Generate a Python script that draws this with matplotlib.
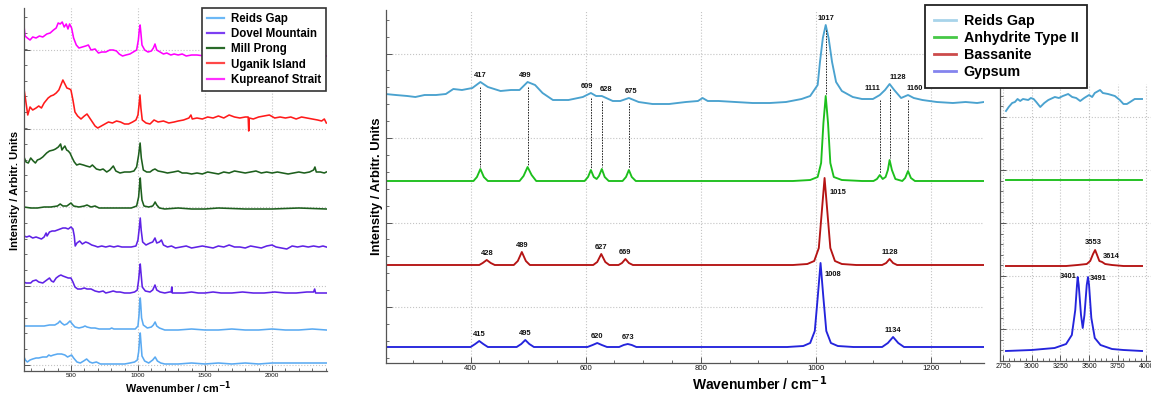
import numpy as np
import matplotlib
matplotlib.use("Agg")
import matplotlib.pyplot as plt
from matplotlib.lines import Line2D
from matplotlib.ticker import MultipleLocator, AutoMinorLocator

plt.rcParams['font.family'] = ['Liberation Sans', 'DejaVu Sans']
plt.rcParams['axes.unicode_minus'] = False
SMALL = ['Liberation Sans', 'DejaVu Sans']

# ---------------- left panel: field spectra (stacked, arbitrary units) ----------------
kup_x = [150, 158, 175, 195, 215, 240, 265, 290, 320, 345, 370, 390, 405, 420, 435, 450, 465, 478, 490, 505,
         520, 540, 560, 585, 610, 630, 650, 680, 705, 730, 760, 790, 815, 840, 860, 885, 910, 940, 965, 990,
         1003, 1010, 1016, 1022, 1030, 1050, 1075, 1100, 1115, 1127, 1140, 1165, 1190, 1215, 1245, 1270, 1300,
         1330, 1360, 1400, 1440, 1500, 1600, 1700, 1800, 1900, 2000, 2100, 2200, 2300, 2405]
kup_y = [339, 329, 327, 325, 328, 327, 329, 328, 331, 332, 335, 337, 342, 341, 343, 338, 341, 336, 341, 337,
         327, 320, 317, 318, 319, 320, 315, 316, 312, 313, 313, 315, 315, 314, 311, 309, 310, 311, 313, 315,
         325, 335, 340, 332, 320, 315, 313, 314, 317, 321, 315, 313, 311, 312, 310, 311, 310,
         311, 309, 310, 310, 309, 310, 309, 310, 309, 310, 309, 310, 309, 309]

uga_x = [150, 160, 178, 195, 215, 240, 260, 280, 300, 330, 350, 370, 390, 410, 425, 440, 455, 470, 490, 500,
         515, 530, 550, 575, 600, 620, 650, 680, 700, 740, 780, 810, 840, 870, 900, 930, 960, 985, 1000, 1008,
         1015, 1022, 1032, 1060, 1090, 1120, 1150, 1190, 1230, 1270, 1300, 1340, 1380, 1395, 1405, 1440, 1480,
         1520, 1560, 1600, 1640, 1680, 1720, 1760, 1800, 1822, 1826, 1830, 1860, 1900, 1940, 1980, 2020, 2060,
         2100, 2140, 2180, 2220, 2260, 2300, 2340, 2370, 2390, 2405]
uga_y = [276, 267, 250, 258, 255, 257, 259, 257, 262, 267, 269, 270, 272, 275, 280, 285, 281, 277, 276, 275,
         265, 253, 249, 246, 249, 251, 245, 239, 237, 240, 243, 242, 244, 243, 241, 241, 243, 245, 250, 260,
         270, 257, 245, 242, 241, 245, 243, 244, 242, 243, 244, 245, 247, 250, 246, 247, 246,
         248, 247, 249, 247, 250, 248, 247, 248, 248, 234, 247, 246, 248, 249, 250, 247, 248,
         247, 248, 246, 248, 247, 246, 245, 244, 246, 242]

mill1_x = [150, 165, 182, 200, 219, 235, 250, 269, 290, 319, 340, 369, 385, 406, 423, 433, 443, 455, 468, 480,
           493, 510, 525, 543, 565, 593, 615, 642, 660, 690, 717, 740, 767, 790, 816, 835, 866, 900, 941, 970,
           990, 1005, 1016, 1025, 1040, 1065, 1090, 1110, 1127, 1150, 1189, 1220, 1264, 1300, 1330, 1363, 1400,
           1440, 1480, 1520, 1560, 1600, 1640, 1680, 1720, 1760, 1800, 1840, 1880, 1920, 1960, 2000, 2040, 2080,
           2120, 2160, 2200, 2240, 2280, 2310, 2320, 2330, 2360, 2390, 2405]
mill1_y = [208, 203, 202, 207, 204, 202, 205, 206, 208, 212, 214, 215, 216, 218, 221, 215, 217, 219, 215, 214,
           212, 207, 203, 200, 201, 200, 199, 198, 200, 196, 195, 196, 193, 195, 199, 194, 192, 193, 193, 194,
           198, 210, 222, 207, 195, 193, 193, 195, 196, 194, 193, 192, 193, 194, 192, 192, 191,
           192, 191, 193, 192, 191, 193, 192, 194, 193, 192, 193, 194, 192, 193, 192, 193, 192,
           191, 192, 193, 192, 193, 195, 198, 193, 193, 192, 193]

mill2_x = [150, 200, 250, 300, 350, 400, 420, 440, 470, 500, 520, 560, 600, 620, 650, 680, 710, 760, 820, 880,
           950, 990, 1005, 1012, 1017, 1022, 1030, 1045, 1080, 1110, 1120, 1128, 1140, 1160, 1200, 1300, 1400,
           1500, 1600, 1800, 2000, 2200, 2405]
mill2_y = [158, 157, 157, 158, 158, 159, 161, 159, 159, 162, 159, 158, 159, 160, 158, 159, 157, 157, 157, 157,
           157, 159, 168, 180, 187, 177, 165, 159, 158, 159, 161, 163, 160, 157, 156, 157, 156,
           156, 157, 156, 156, 157, 156]

dov1_x = [150, 170, 190, 215, 240, 260, 280, 300, 315, 322, 340, 360, 380, 400, 420, 440, 460, 480, 500, 515,
          525, 532, 545, 565, 585, 610, 630, 655, 680, 700, 730, 760, 790, 820, 850, 880, 910, 950, 985, 1000,
          1010, 1017, 1024, 1035, 1060, 1090, 1110, 1127, 1140, 1160, 1175, 1190, 1220, 1250, 1280, 1320, 1360,
          1400, 1440, 1480, 1520, 1560, 1600, 1640, 1680, 1720, 1760, 1800, 1840, 1880, 1920, 1960, 2000, 2030,
          2070, 2110, 2150, 2190, 2230, 2270, 2310, 2350, 2380, 2405]
dov1_y = [129, 128, 129, 127, 128, 127, 126, 128, 132, 129, 133, 134, 134, 135, 136, 137, 137, 136, 138, 136,
          129, 119, 122, 124, 121, 123, 122, 120, 119, 118, 119, 118, 119, 118, 119, 118, 118, 118, 119, 125,
          137, 147, 135, 123, 120, 122, 123, 127, 122, 123, 125, 120, 118, 119, 117, 118, 119,
          117, 118, 119, 118, 117, 119, 118, 120, 118, 118, 117, 119, 118, 117, 119, 120, 118,
          117, 116, 119, 118, 119, 118, 119, 118, 119, 118]

dov2_x = [150, 165, 182, 200, 215, 240, 260, 290, 310, 340, 355, 370, 390, 410, 425, 440, 460, 480, 500, 515,
          530, 550, 575, 600, 620, 650, 680, 710, 740, 760, 790, 815, 840, 866, 900, 941, 975, 995, 1005, 1012,
          1017, 1022, 1032, 1055, 1090, 1110, 1127, 1140, 1165, 1200, 1235, 1248, 1252, 1256, 1290, 1340, 1400,
          1450, 1500, 1560, 1620, 1700, 1780, 1860, 1940, 2020, 2100, 2180, 2260, 2310, 2318, 2325, 2360, 2405]
dov2_y = [83, 82, 82, 82, 84, 85, 83, 82, 84, 87, 84, 83, 87, 89, 90, 89, 88, 87, 87, 83,
          78, 76, 76, 77, 76, 76, 74, 73, 74, 72, 73, 74, 73, 73, 72, 72, 73, 75, 85, 95,
          101, 93, 78, 74, 73, 75, 80, 75, 73, 72, 73, 73, 78, 72, 72, 72, 73,
          72, 72, 73, 72, 72, 73, 72, 72, 73, 72, 72, 73, 73, 76, 72, 72, 72]

reid1_x = [150, 200, 250, 300, 340, 380, 405, 418, 430, 450, 470, 493, 510, 530, 560, 590, 605, 620, 650, 680,
           710, 750, 790, 804, 820, 860, 900, 940, 980, 1000, 1008, 1013, 1017, 1021, 1027, 1040, 1070, 1100,
           1115, 1128, 1140, 1160, 1200, 1300, 1400, 1500, 1600, 1700, 1800, 1900, 2000, 2100, 2200, 2300, 2405]
reid1_y = [39, 39, 39, 39, 40, 40, 42, 44, 42, 40, 41, 44, 41, 38, 37, 38, 39, 38, 37, 37,
           36, 36, 36, 37, 36, 36, 36, 36, 36, 39, 50, 62, 67, 60, 47, 40, 37, 38,
           40, 43, 39, 37, 35, 35, 36, 35, 35, 36, 35, 35, 36, 35, 35, 36, 35]

reid2_x = [150, 160, 175, 195, 215, 240, 260, 290, 320, 335, 350, 370, 400, 430, 455, 475, 490, 505, 520, 545,
           570, 595, 617, 640, 660, 690, 720, 760, 800, 850, 900, 940, 975, 995, 1005, 1012, 1017, 1022, 1030,
           1050, 1080, 1110, 1128, 1145, 1170, 1200, 1300, 1400, 1500, 1600, 1700, 1800, 1900, 2000, 2100, 2200,
           2300, 2405]
reid2_y = [8, 5, 3, 5, 6, 7, 7, 8, 8, 10, 9, 10, 11, 11, 10, 8, 9, 10, 7, 3,
           2, 4, 6, 3, 2, 3, 1, 1, 1, 1, 1, 2, 3, 5, 13, 25, 32, 23, 9,
           4, 2, 5, 8, 4, 2, 1, 1, 2, 1, 2, 1, 2, 1, 2, 2, 2,
           2, 2]

left_series = [
    ("Kupreanof Strait", kup_x, kup_y, '#ff00ff'),
    ("Uganik Island", uga_x, uga_y, '#ff1a1a'),
    ("Mill Prong", mill1_x, mill1_y, '#1d5f1d'),
    ("Mill Prong", mill2_x, mill2_y, '#1d5f1d'),
    ("Dovel Mountain", dov1_x, dov1_y, '#5f22e6'),
    ("Dovel Mountain", dov2_x, dov2_y, '#5f22e6'),
    ("Reids Gap", reid1_x, reid1_y, '#5aaaf2'),
    ("Reids Gap", reid2_x, reid2_y, '#5aaaf2'),
]
left_legend = [("Reids Gap", '#6cb8f6'), ("Dovel Mountain", '#7d3ff2'), ("Mill Prong", '#2a6b2a'),
               ("Uganik Island", '#ff4848'), ("Kupreanof Strait", '#ff30ff')]

# ---------------- middle panel: Reids Gap vs reference phases ----------------
mid_reids_x = [252, 270, 290, 304, 320, 340, 357, 370, 385, 403, 417, 430, 452, 470, 485, 499, 512, 525, 543, 570,
               595, 609, 618, 628, 647, 660, 675, 692, 716, 745, 774, 795, 803, 812, 831, 860, 890, 920, 948, 975,
               990, 1003, 1007, 1012, 1017, 1022, 1028, 1035, 1045, 1064, 1080, 1099, 1111, 1120, 1128, 1136,
               1148, 1160, 1170, 1185, 1210, 1238, 1260, 1280, 1292]
mid_reids_y = [269, 268, 267, 266, 268, 268, 269, 274, 273, 275, 281, 276, 272, 273, 273, 281, 278, 270, 263, 263,
               266, 270, 267, 267, 262, 262, 265, 261, 259, 259, 261, 262, 265, 262, 262, 261, 260, 260, 261, 264,
               267, 278, 301, 325, 338, 325, 301, 281, 272, 266, 264, 264, 268, 273, 279, 273,
               265, 268, 265, 263, 261, 260, 261, 260, 261]

anh_x = [250, 405, 411, 417, 423, 430, 485, 492, 499, 506, 514, 598, 604, 609, 614, 619, 623, 628, 633, 640,
         664, 670, 675, 680, 687, 960, 990, 1003, 1009, 1013, 1017, 1021, 1025, 1031, 1045, 1080, 1100, 1106,
         1111, 1116, 1121, 1125, 1128, 1132, 1138, 1150, 1155, 1160, 1165, 1172, 1292]
anh_y = [182, 182, 186, 194, 186, 182, 182, 187, 196, 188, 182, 182, 186, 193, 186, 184, 187, 194, 186, 182,
         182, 186, 193, 186, 182, 182, 183, 186, 200, 240, 267, 240, 200, 186, 183, 182, 182, 184,
         188, 184, 186, 193, 203, 193, 184, 182, 185, 192, 185, 182, 182]

bas_x = [250, 415, 421, 428, 435, 442, 475, 482, 489, 496, 503, 613, 620, 627, 634, 641, 657, 663, 669, 675,
         682, 960, 985, 997, 1005, 1010, 1015, 1020, 1025, 1033, 1045, 1070, 1115, 1122, 1128, 1134, 1141, 1292]
bas_y = [98, 98, 100, 103, 100, 98, 98, 102, 111, 102, 98, 98, 101, 109, 101, 98, 98, 100, 104, 100,
         98, 98, 99, 102, 115, 150, 185, 150, 115, 102, 99, 98, 98, 100, 104, 100, 98, 98]

gyp_x = [250, 400, 408, 415, 422, 430, 480, 488, 495, 502, 510, 603, 612, 620, 628, 637, 658, 666, 673, 680,
         688, 950, 978, 990, 998, 1003, 1008, 1013, 1018, 1026, 1038, 1065, 1115, 1125, 1134, 1143, 1153, 1292]
gyp_y = [16, 16, 19, 22, 19, 16, 16, 19, 23, 19, 16, 16, 18, 20, 18, 16, 16, 18, 19, 18,
         16, 16, 17, 20, 32, 65, 100, 65, 32, 20, 17, 16, 16, 20, 26, 20, 16, 16]

reids_peaks = [417, 499, 609, 628, 675, 1017, 1111, 1128, 1160]
bas_peaks = [428, 489, 627, 669, 1015, 1128]
gyp_peaks = [415, 495, 620, 673, 1008, 1134]

# ---------------- right panel: OH stretching region ----------------
hi_reids_x = [2776, 2800, 2830, 2854, 2877, 2900, 2924, 2970, 2993, 3017, 3040, 3075, 3110, 3145, 3202, 3237, 3272,
              3318, 3353, 3388, 3423, 3458, 3500, 3527, 3550, 3596, 3620, 3666, 3725, 3768, 3800, 3830, 3858,
              3898, 3962]
hi_reids_y = [250, 254, 258, 259, 262, 260, 262, 261, 263, 262, 259, 254, 258, 261, 264, 263, 265,
              267, 264, 263, 260, 263, 266, 264, 268, 271, 268, 267, 265, 261, 257, 257, 259,
              262, 262]
hi_anh_x = [2776, 3962]
hi_anh_y = [181, 181]
hi_bas_x = [2776, 3300, 3400, 3480, 3510, 3535, 3553, 3570, 3590, 3614, 3640, 3700, 3800, 3962]
hi_bas_y = [95, 95, 96, 97, 100, 107, 111, 106, 100, 99, 97, 96, 95, 95]
hi_gyp_x = [2776, 3000, 3200, 3300, 3350, 3380, 3395, 3401, 3410, 3430, 3445, 3460, 3480, 3491, 3500, 3520,
            3550, 3600, 3700, 3800, 3962]
hi_gyp_y = [10, 11, 13, 17, 26, 51, 76, 84, 76, 46, 33, 46, 76, 84, 76, 43, 23, 16, 12, 11, 10]
hi_bas_peaks = [3553, 3614]
hi_gyp_peaks = [3401, 3491]

phase_names = ["Reids Gap", "Anhydrite Type II", "Bassanite", "Gypsum"]
phase_colors = ['#4aa2cf', '#1cbf1c', '#b51414', '#2424dc']
phase_legend_colors = ['#a8d4ea', '#46c846', '#cc4b4b', '#8484ee']

W, H = 1151, 394
fig = plt.figure(figsize=(W / 100, H / 100), dpi=100)


def px_axes(x0, x1, y0, y1):
    return fig.add_axes([x0 / W, 1 - y1 / H, (x1 - x0) / W, (y1 - y0) / H])


def style(ax, yticks, xticks, xmin, tick_size):
    for s in ['top', 'right']:
        ax.spines[s].set_visible(False)
    for s in ['left', 'bottom']:
        ax.spines[s].set_color('#555555')
        ax.spines[s].set_linewidth(0.9)
    ax.set_yticks(yticks)
    ax.set_xticks(xticks)
    ax.yaxis.set_minor_locator(AutoMinorLocator(5))
    ax.xaxis.set_minor_locator(MultipleLocator(xmin))
    ax.tick_params(which='both', direction='in', colors='#555555', labelleft=False,
                   labelsize=tick_size, pad=1.5)
    ax.tick_params(which='major', length=4, width=0.7)
    ax.tick_params(which='minor', length=2.5, width=0.6)
    ax.tick_params(axis='x', labelcolor='#111111')
    ax.grid(True, which='major', ls=':', color='#c4c4c4', lw=0.8)
    ax.set_axisbelow(True)


# left
axL = px_axes(24, 327, 8, 371)
for name, xs, ys, col in left_series:
    axL.plot(xs, ys, color=col, lw=1.15)
axL.set_xlim(150, 2410)
axL.set_ylim(-6, 357)
style(axL, [0, 79, 158, 236, 315], [500, 1000, 1500, 2000], 100, 4.6)

# middle
axM = px_axes(386, 984, 10, 363)
mid_data = [(mid_reids_x, mid_reids_y), (anh_x, anh_y), (bas_x, bas_y), (gyp_x, gyp_y)]
for (xs, ys), col in zip(mid_data, phase_colors):
    axM.plot(xs, ys, color=col, lw=1.35)
axM.set_xlim(253, 1292)
axM.set_ylim(0, 353)
style(axM, [56, 140.5, 225, 309.5], [400, 600, 800, 1000, 1200], 50, 5.6)

lab_kw = dict(fontsize=5.4, family=SMALL, color='#111111', fontweight='bold')
# Reids Gap labels and dotted links down to anhydrite
reids_dx = [0, -4, -7, 8, 4, 0, -12, 15, 12]
for pk, dx in zip(reids_peaks, reids_dx):
    top = np.interp(pk, mid_reids_x, mid_reids_y)
    bot = np.interp(pk, anh_x, anh_y)
    axM.plot([pk, pk], [top - 5, bot + 2], color='#222222', lw=0.7, ls=(0, (1.6, 1.2)))
    axM.text(pk + dx, top + 3, str(pk), ha='center', va='bottom', **lab_kw)
for pk in bas_peaks:
    top = np.interp(pk, bas_x, bas_y)
    if pk == 1015:
        axM.text(pk + 9, top - 14, str(pk), ha='left', va='center', **lab_kw)
    else:
        axM.text(pk, top + 3, str(pk), ha='center', va='bottom', **lab_kw)
for pk in gyp_peaks:
    top = np.interp(pk, gyp_x, gyp_y)
    if pk == 1008:
        axM.text(pk + 7, top - 12, str(pk), ha='left', va='center', **lab_kw)
    else:
        axM.text(pk, top + 3, str(pk), ha='center', va='bottom', **lab_kw)

# right
axR = px_axes(1000, 1151, 84, 361)
axR.set_facecolor('none')
hi_data = [(hi_reids_x, hi_reids_y), (hi_anh_x, hi_anh_y), (hi_bas_x, hi_bas_y), (hi_gyp_x, hi_gyp_y)]
for (xs, ys), col in zip(hi_data, phase_colors):
    axR.plot(xs, ys, color=col, lw=1.35)
axR.set_xlim(2724, 4040)
axR.set_ylim(0, 277)
style(axR, [32, 85, 138, 191, 244], [2750, 3000, 3250, 3500, 3750, 4000], 50, 5.0)
b0, b1 = hi_bas_peaks
axR.text(b0 - 15, np.interp(b0, hi_bas_x, hi_bas_y) + 4, str(b0), ha='center', va='bottom', **lab_kw)
axR.text(b1 + 10, np.interp(b1, hi_bas_x, hi_bas_y) + 6, str(b1), ha='left', va='center', **lab_kw)
g0, g1 = hi_gyp_peaks
axR.text(g0 - 10, np.interp(g0, hi_gyp_x, hi_gyp_y) + 1, str(g0), ha='right', va='center', **lab_kw)
axR.text(g1 + 12, np.interp(g1, hi_gyp_x, hi_gyp_y) - 1, str(g1), ha='left', va='center', **lab_kw)

# axis labels
fig.text(178 / W, 1 - 388 / H, 'Wavenumber / cm$^{\\mathbf{-1}}$', ha='center', va='center',
         fontsize=7.8, fontweight='bold')
fig.text(15 / W, 1 - 190 / H, 'Intensity / Arbitr. Units', ha='center', va='center',
         rotation=90, fontsize=8, fontweight='bold')
fig.text(760 / W, 1 - 384 / H, 'Wavenumber / cm$^{\\mathbf{-1}}$', ha='center', va='center',
         fontsize=10, fontweight='bold')
fig.text(377 / W, 1 - 186 / H, 'Intensity / Arbitr. Units', ha='center', va='center',
         rotation=90, fontsize=9.4, fontweight='bold')

# legends
h_left = [Line2D([], [], color=c, lw=1.6) for _, c in left_legend]
legL = fig.legend(h_left, [n for n, _ in left_legend], loc='upper left',
                  bbox_to_anchor=(202 / W, 1 - 8 / H), bbox_transform=fig.transFigure,
                  borderaxespad=0, fancybox=False, framealpha=1, edgecolor='#333333',
                  prop={'weight': 'bold', 'size': 8.3}, handlelength=1.5, handletextpad=0.55,
                  labelspacing=0.27, borderpad=0.45)
legL.get_frame().set_linewidth(1.2)

h_mid = [Line2D([], [], color=c, lw=2) for c in phase_legend_colors]
legM = fig.legend(h_mid, phase_names, loc='upper left',
                  bbox_to_anchor=(925 / W, 1 - 5 / H), bbox_transform=fig.transFigure,
                  borderaxespad=0, fancybox=False, framealpha=1, edgecolor='#222222',
                  prop={'weight': 'bold', 'size': 10.3}, handlelength=1.6, handletextpad=0.5,
                  labelspacing=0.22, borderpad=0.6)
legM.get_frame().set_linewidth(1.3)

fig.savefig('out.png', dpi=100)
